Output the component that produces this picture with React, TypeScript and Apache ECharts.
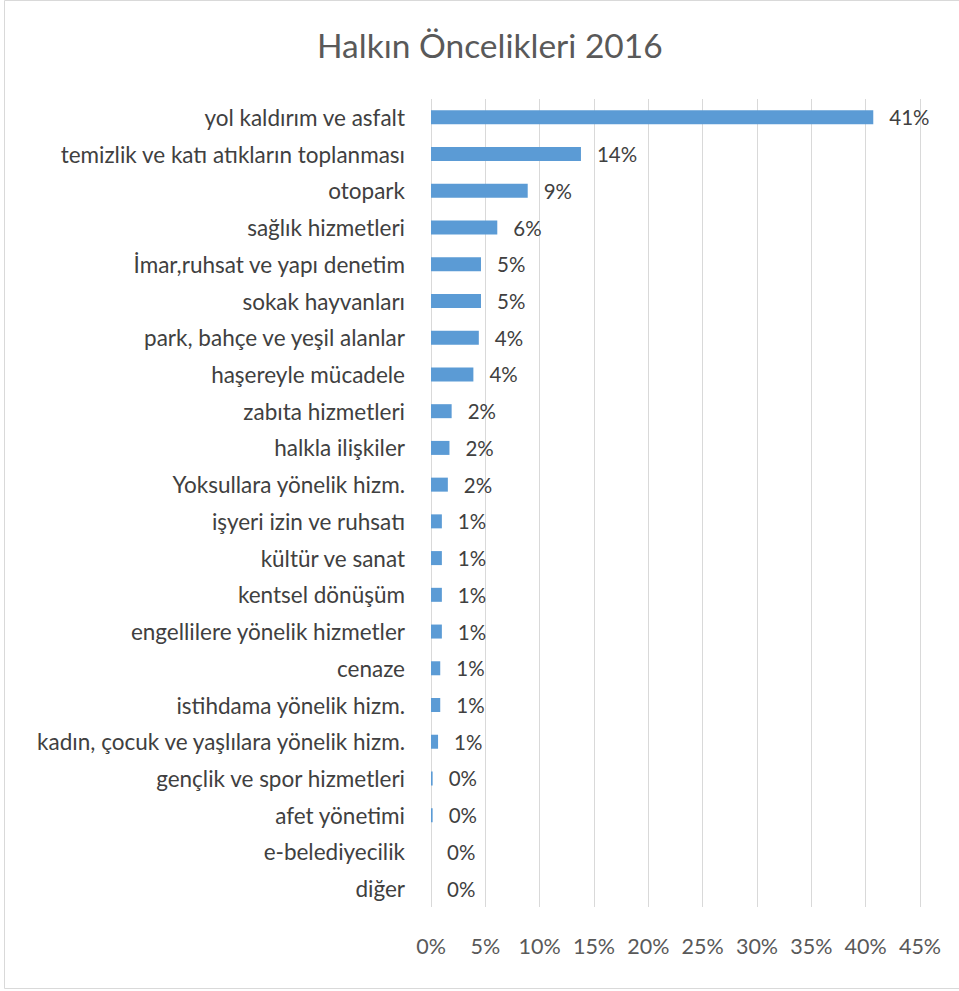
import React, { useEffect, useRef } from "react";
import * as echarts from "echarts";

const categories = [
  "yol kaldırım ve asfalt",
  "temizlik ve katı atıkların toplanması",
  "otopark",
  "sağlık hizmetleri",
  "İmar,ruhsat ve yapı denetim",
  "sokak hayvanları",
  "park, bahçe ve yeşil alanlar",
  "haşereyle mücadele",
  "zabıta hizmetleri",
  "halkla ilişkiler",
  "Yoksullara yönelik hizm.",
  "işyeri izin ve ruhsatı",
  "kültür ve sanat",
  "kentsel dönüşüm",
  "engellilere yönelik hizmetler",
  "cenaze",
  "istihdama yönelik hizm.",
  "kadın, çocuk ve yaşlılara yönelik hizm.",
  "gençlik ve spor hizmetleri",
  "afet yönetimi",
  "e-belediyecilik",
  "diğer",
];

const values = [
  40.7, 13.8, 8.9, 6.1, 4.6, 4.6, 4.4, 3.9, 1.9, 1.7, 1.55, 1.0, 1.0, 1.0, 1.0,
  0.85, 0.85, 0.65, 0.15, 0.15, 0.0, 0.0,
];

const titleText = "Halkın Öncelikleri 2016";

export default function App() {
  const ref = useRef<HTMLDivElement>(null);
  useEffect(() => {
    document.body.style.margin = "0";
    const chart = echarts.init(ref.current!, null, { renderer: "svg" });
    const font = "Lato, 'Open Sans', sans-serif";
    chart.setOption({
      animation: false,
      backgroundColor: "#ffffff",
      textStyle: { fontFamily: font },
      title: {
        text: titleText,
        left: 312,
        top: 23,
        textStyle: { fontFamily: font, fontSize: 33.5, fontWeight: "normal", color: "#595959" },
      },
      graphic: [
        {
          type: "rect",
          shape: { x: 4.5, y: 0.5, width: 970, height: 988 },
          style: { fill: "none", stroke: "#d9d9d9", lineWidth: 1 },
          silent: true,
        },
      ],
      grid: { left: 431, right: 39, top: 99, bottom: 84, containLabel: false },
      xAxis: {
        type: "value",
        min: 0,
        max: 45,
        interval: 5,
        axisLine: { show: false },
        axisTick: { show: false },
        splitLine: { show: true, lineStyle: { color: "#d9d9d9", width: 1 } },
        axisLabel: {
          formatter: "{value}%",
          color: "#595959",
          fontSize: 21.5,
          fontFamily: font,
          margin: 28,
        },
      },
      yAxis: {
        type: "category",
        data: categories,
        inverse: true,
        axisLine: { show: false },
        axisTick: { show: false },
        splitLine: { show: false },
        axisLabel: {
          color: "#404040",
          fontSize: 22.5,
          fontFamily: font,
          margin: 26,
          interval: 0,
        },
      },
      series: [
        {
          type: "bar",
          data: values,
          barWidth: 14,
          itemStyle: { color: "#5b9bd5" },
          label: {
            show: true,
            position: "right",
            distance: 16,
            color: "#404040",
            fontSize: 20.5,
            fontFamily: font,
            formatter: (p: any) => Math.round(p.value) + "%",
          },
        },
      ],
    });
    return () => chart.dispose();
  }, []);
  return (
    <div
      ref={ref}
      style={{ position: "absolute", left: 0, top: 0, width: 959, height: 991 }}
    />
  );
}
